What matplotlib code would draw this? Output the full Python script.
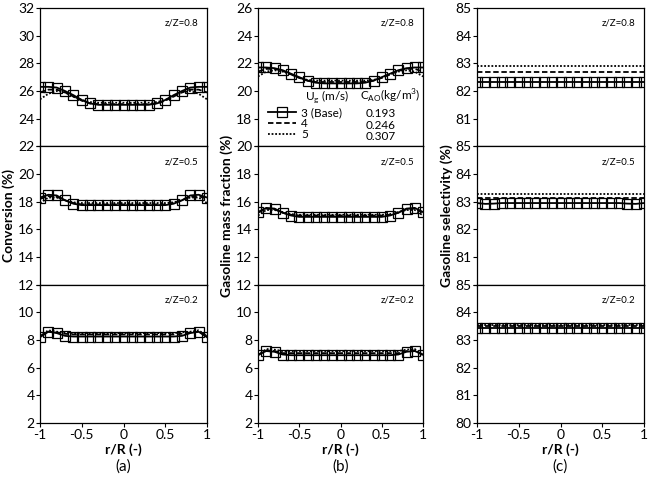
import numpy as np
import matplotlib
matplotlib.use('Agg')
import matplotlib.pyplot as plt

plt.rcParams['font.family'] = ['Lato', 'DejaVu Sans']
plt.rcParams['mathtext.fontset'] = 'custom'
plt.rcParams['mathtext.rm'] = 'Lato'

# radial position r/R
r = [-1, -0.9, -0.8, -0.7, -0.6, -0.5, -0.4, -0.3, -0.2, -0.1, 0,
     0.1, 0.2, 0.3, 0.4, 0.5, 0.6, 0.7, 0.8, 0.9, 1]

# (a) conversion (%)
conv_08_u3 = [26.3, 26.3, 26.25, 26.0, 25.7, 25.35, 25.1, 25.0, 25.0, 25.0, 25.0,
              25.0, 25.0, 25.0, 25.1, 25.35, 25.7, 26.0, 26.25, 26.3, 26.3]
conv_08_u4 = [25.9, 26.1, 26.1, 25.9, 25.6, 25.3, 25.1, 25.05, 25.05, 25.05, 25.05,
              25.05, 25.05, 25.05, 25.1, 25.3, 25.6, 25.9, 26.1, 26.1, 25.9]
conv_08_u5 = [25.4, 25.8, 26.0, 25.9, 25.6, 25.35, 25.2, 25.15, 25.15, 25.15, 25.15,
              25.15, 25.15, 25.15, 25.2, 25.35, 25.6, 25.9, 26.0, 25.8, 25.4]
conv_05_u3 = [18.3, 18.5, 18.45, 18.1, 17.85, 17.75, 17.75, 17.75, 17.75, 17.75, 17.75,
              17.75, 17.75, 17.75, 17.75, 17.75, 17.85, 18.1, 18.45, 18.5, 18.3]
conv_05_u4 = [18.2, 18.4, 18.35, 18.1, 17.9, 17.8, 17.8, 17.8, 17.8, 17.8, 17.8,
              17.8, 17.8, 17.8, 17.8, 17.8, 17.9, 18.1, 18.35, 18.4, 18.2]
conv_05_u5 = [17.9, 18.3, 18.3, 18.1, 17.95, 17.9, 17.9, 17.9, 17.9, 17.9, 17.9,
              17.9, 17.9, 17.9, 17.9, 17.9, 17.95, 18.1, 18.3, 18.3, 17.9]
conv_02_u3 = [8.2, 8.6, 8.5, 8.3, 8.25, 8.25, 8.25, 8.25, 8.25, 8.25, 8.25,
              8.25, 8.25, 8.25, 8.25, 8.25, 8.25, 8.3, 8.5, 8.6, 8.2]
conv_02_u4 = [8.3, 8.6, 8.55, 8.45, 8.4, 8.4, 8.4, 8.4, 8.4, 8.4, 8.4,
              8.4, 8.4, 8.4, 8.4, 8.4, 8.4, 8.45, 8.55, 8.6, 8.3]
conv_02_u5 = [8.3, 8.7, 8.6, 8.55, 8.5, 8.5, 8.5, 8.5, 8.5, 8.5, 8.5,
              8.5, 8.5, 8.5, 8.5, 8.5, 8.5, 8.55, 8.6, 8.7, 8.3]

# (b) gasoline mass fraction (%)
gas_08_u3 = [21.7, 21.7, 21.65, 21.5, 21.25, 21.0, 20.75, 20.6, 20.55, 20.55, 20.55,
             20.55, 20.55, 20.6, 20.75, 21.0, 21.25, 21.5, 21.65, 21.7, 21.7]
gas_08_u4 = [21.4, 21.6, 21.6, 21.45, 21.2, 20.95, 20.75, 20.65, 20.65, 20.65, 20.65,
             20.65, 20.65, 20.65, 20.75, 20.95, 21.2, 21.45, 21.6, 21.6, 21.4]
gas_08_u5 = [21.05, 21.4, 21.5, 21.4, 21.2, 20.95, 20.8, 20.75, 20.75, 20.75, 20.75,
             20.75, 20.75, 20.75, 20.8, 20.95, 21.2, 21.4, 21.5, 21.4, 21.05]
gas_05_u3 = [15.25, 15.55, 15.5, 15.2, 15.0, 14.9, 14.9, 14.9, 14.9, 14.9, 14.9,
             14.9, 14.9, 14.9, 14.9, 14.9, 15.0, 15.2, 15.5, 15.55, 15.25]
gas_05_u4 = [15.2, 15.5, 15.45, 15.2, 15.05, 15.0, 15.0, 15.0, 15.0, 15.0, 15.0,
             15.0, 15.0, 15.0, 15.0, 15.0, 15.05, 15.2, 15.45, 15.5, 15.2]
gas_05_u5 = [15.0, 15.4, 15.4, 15.25, 15.1, 15.05, 15.05, 15.05, 15.05, 15.05, 15.05,
             15.05, 15.05, 15.05, 15.05, 15.05, 15.1, 15.25, 15.4, 15.4, 15.0]
gas_02_u3 = [6.95, 7.2, 7.15, 6.95, 6.9, 6.9, 6.9, 6.9, 6.9, 6.9, 6.9,
             6.9, 6.9, 6.9, 6.9, 6.9, 6.9, 6.95, 7.15, 7.2, 6.95]
gas_02_u4 = [6.9, 7.25, 7.2, 7.05, 7.05, 7.05, 7.05, 7.05, 7.05, 7.05, 7.05,
             7.05, 7.05, 7.05, 7.05, 7.05, 7.05, 7.05, 7.2, 7.25, 6.9]
gas_02_u5 = [6.9, 7.35, 7.3, 7.2, 7.2, 7.2, 7.2, 7.2, 7.2, 7.2, 7.2,
             7.2, 7.2, 7.2, 7.2, 7.2, 7.2, 7.2, 7.3, 7.35, 6.9]

# (c) gasoline selectivity (%)
sel_08_u3 = [82.33] * 21
sel_08_u4 = [82.68] * 21
sel_08_u5 = [82.92] * 21
sel_05_u3 = [82.95, 82.92, 82.93, 82.95, 82.95, 82.95, 82.95, 82.95, 82.95, 82.95, 82.95,
             82.95, 82.95, 82.95, 82.95, 82.95, 82.95, 82.95, 82.93, 82.92, 82.95]
sel_05_u4 = [83.12] * 21
sel_05_u5 = [83.27] * 21
sel_02_u3 = [83.44] * 21
sel_02_u4 = [83.5] * 21
sel_02_u5 = [83.55] * 21

heights = ['z/Z=0.8', 'z/Z=0.5', 'z/Z=0.2']
ug_labels = ['3 (Base)', '4', '5']
cao_values = ['0.193', '0.246', '0.307']

columns = [
    dict(data=[(conv_08_u3, conv_08_u4, conv_08_u5),
               (conv_05_u3, conv_05_u4, conv_05_u5),
               (conv_02_u3, conv_02_u4, conv_02_u5)],
         ylims=[(22, 32), (12, 22), (2, 12)], step=2,
         ylabel='Conversion (%)', tag='(a)', left=40, width=167),
    dict(data=[(gas_08_u3, gas_08_u4, gas_08_u5),
               (gas_05_u3, gas_05_u4, gas_05_u5),
               (gas_02_u3, gas_02_u4, gas_02_u5)],
         ylims=[(16, 26), (10, 20), (2, 12)], step=2,
         ylabel='Gasoline mass fraction (%)', tag='(b)', left=258, width=165),
    dict(data=[(sel_08_u3, sel_08_u4, sel_08_u5),
               (sel_05_u3, sel_05_u4, sel_05_u5),
               (sel_02_u3, sel_02_u4, sel_02_u5)],
         ylims=[(80, 85), (80, 85), (80, 85)], step=1,
         ylabel='Gasoline selectivity (%)', tag='(c)', left=477, width=167),
]

W, H = 652, 479
fig = plt.figure(figsize=(W / 100, H / 100), dpi=100)

top_px, bot_px = 8, 423
ph = (bot_px - top_px) / 3

for col in columns:
    axes = []
    for k in range(3):
        ax = fig.add_axes([col['left'] / W, 1 - (top_px + (k + 1) * ph) / H,
                           col['width'] / W, ph / H])
        u3, u4, u5 = col['data'][k]
        ax.plot(r, u3, '-', color='black', lw=1.3, marker='s', ms=7.5,
                mfc='none', mec='black', mew=0.9, zorder=2, label=ug_labels[0])
        ax.plot(r, u4, '--', color='black', lw=1.3, dashes=(3, 1.5), zorder=3,
                label=ug_labels[1])
        ax.plot(r, u5, ':', color='black', lw=1.3, dashes=(1, 1), zorder=4,
                label=ug_labels[2])
        lo, hi = col['ylims'][k]
        ax.set_ylim(lo, hi)
        ax.set_xlim(-1, 1)
        ticks = np.arange(lo, hi + 0.01, col['step'])
        labels = ['%g' % t for t in ticks]
        if k < 2:
            labels[0] = ''
        ax.set_yticks(ticks, labels)
        ax.set_xticks([-1, -0.5, 0, 0.5, 1])
        if k < 2:
            ax.tick_params(axis='x', labelbottom=False)
        else:
            ax.set_xticklabels(['-1', '-0.5', '0', '0.5', '1'])
            ax.set_xlabel('r/R (-)', fontsize=10, fontweight='bold', labelpad=2)
        ax.tick_params(direction='out', length=3, width=0.8, labelsize=10, pad=1)
        for s in ax.spines.values():
            s.set_linewidth(0.9)
        ax.text(0.95, 0.89, heights[k], transform=ax.transAxes, ha='right',
                va='center', fontsize=7)
        axes.append(ax)
    axes[1].set_ylabel(col['ylabel'], fontsize=10, fontweight='bold', labelpad=2)
    fig.text((col['left'] + col['width'] / 2) / W, 1 - 467 / H, col['tag'],
             ha='center', va='center', fontsize=11)
    col['axes'] = axes

# legend table in panel (b), top
lax = columns[1]['axes'][0]
lax.legend(loc='upper left', bbox_to_anchor=(0.06, 0.285), frameon=False,
           fontsize=8.5, handlelength=2.4, handletextpad=0.4, labelspacing=0.0,
           borderpad=0, borderaxespad=0)
lax.text(0.285, 0.36, r'U$_\mathrm{g}$ (m/s)', transform=lax.transAxes,
         fontsize=8.5, va='center')
lax.text(0.62, 0.36, r'C$_\mathrm{AO}$(kg/m$^3$)', transform=lax.transAxes,
         fontsize=8.5, va='center')
for i, v in enumerate(cao_values):
    lax.text(0.65, 0.235 - i * 0.082, v, transform=lax.transAxes,
             fontsize=8.5, va='center')

fig.savefig('out.png', dpi=100)
